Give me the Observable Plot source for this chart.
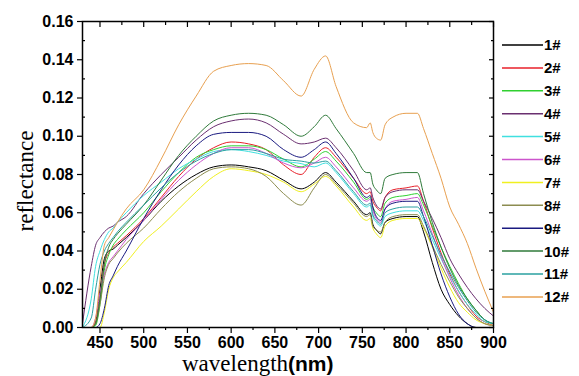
<!DOCTYPE html>
<html><head><meta charset="utf-8">
<script src="https://cdn.jsdelivr.net/npm/d3@7"></script>
<script src="https://cdn.jsdelivr.net/npm/@observablehq/plot@0.6"></script>
<style>body{margin:0;background:#fff} svg{display:block}</style>
</head><body><div id="chart"></div>
<script>
const wavelengths = [430,440,445,450,455,460,465,470,480,500,520,540,560,580,600,620,640,660,680,695,708,720,740,755,759,762,766,771,776,785,800,813,820,830,840,850,860,870,880,890,900];

const s1  = [0,0,0.003,0.020,0.036,0.040,0.041,0.043,0.047,0.056,0.066,0.074,0.080,0.084,0.085,0.084,0.082,0.077,0.0725,0.076,0.081,0.076,0.066,0.059,0.060,0.054,0.051,0.049,0.055,0.057,0.058,0.058,0.050,0.034,0.020,0.012,0.006,0.002,0,0,0];
const s2  = [0,0,0.002,0.015,0.033,0.039,0.042,0.044,0.048,0.057,0.068,0.079,0.088,0.094,0.097,0.096,0.093,0.085,0.080,0.089,0.094,0.089,0.078,0.070,0.071,0.066,0.063,0.061,0.068,0.072,0.073,0.074,0.066,0.052,0.039,0.028,0.019,0.012,0.006,0.003,0.001];
const s3  = [0,0,0.001,0.012,0.030,0.038,0.043,0.046,0.051,0.060,0.071,0.081,0.089,0.093,0.095,0.095,0.093,0.088,0.084,0.088,0.092,0.087,0.076,0.067,0.068,0.063,0.060,0.058,0.065,0.068,0.069,0.070,0.064,0.053,0.042,0.032,0.023,0.015,0.009,0.004,0.002];
const s4  = [0.002,0.032,0.043,0.047,0.050,0.052,0.053,0.055,0.058,0.070,0.080,0.089,0.098,0.105,0.108,0.109,0.107,0.101,0.096,0.097,0.099,0.094,0.082,0.072,0.073,0.068,0.064,0.062,0.068,0.071,0.072,0.072,0.066,0.057,0.047,0.036,0.028,0.021,0.015,0.010,0.006];
const s5  = [0,0.015,0.032,0.040,0.046,0.050,0.052,0.055,0.060,0.069,0.076,0.083,0.088,0.092,0.093,0.092,0.090,0.087,0.0857,0.084,0.086,0.081,0.070,0.063,0.064,0.058,0.055,0.053,0.058,0.060,0.061,0.061,0.056,0.046,0.036,0.027,0.019,0.012,0.007,0.003,0.002];
const s6  = [0,0,0.005,0.018,0.028,0.034,0.037,0.040,0.046,0.056,0.067,0.077,0.085,0.091,0.094,0.094,0.091,0.086,0.0835,0.086,0.089,0.084,0.073,0.066,0.067,0.061,0.057,0.055,0.062,0.066,0.067,0.068,0.061,0.049,0.037,0.026,0.017,0.010,0.005,0.002,0.001];
const s7  = [0,0,0,0,0.008,0.020,0.026,0.029,0.034,0.045,0.053,0.062,0.071,0.079,0.083,0.082,0.080,0.076,0.071,0.075,0.079,0.074,0.063,0.056,0.057,0.052,0.049,0.047,0.053,0.056,0.057,0.057,0.052,0.042,0.031,0.021,0.013,0.008,0.004,0.002,0.001];
const s8  = [0,0,0.002,0.012,0.026,0.033,0.036,0.039,0.044,0.052,0.062,0.071,0.078,0.083,0.084,0.083,0.079,0.070,0.064,0.073,0.080,0.075,0.065,0.058,0.059,0.053,0.051,0.050,0.055,0.058,0.059,0.059,0.053,0.043,0.033,0.024,0.016,0.010,0.005,0.002,0.001];
const s9  = [0,0,0,0.002,0.010,0.022,0.027,0.032,0.040,0.057,0.072,0.085,0.095,0.101,0.102,0.102,0.100,0.093,0.089,0.093,0.097,0.091,0.078,0.068,0.069,0.063,0.058,0.056,0.062,0.065,0.066,0.066,0.058,0.043,0.028,0.016,0.007,0.002,0,0,0];
const s10 = [0,0,0.002,0.015,0.033,0.042,0.046,0.049,0.054,0.064,0.077,0.090,0.100,0.108,0.111,0.112,0.111,0.106,0.100,0.105,0.111,0.104,0.091,0.081,0.081,0.075,0.072,0.070,0.078,0.080,0.081,0.081,0.070,0.055,0.042,0.031,0.022,0.015,0.009,0.004,0.002];
const s11 = [0,0.005,0.020,0.033,0.040,0.044,0.047,0.050,0.055,0.064,0.073,0.081,0.087,0.091,0.093,0.093,0.091,0.088,0.087,0.086,0.087,0.082,0.071,0.064,0.065,0.059,0.056,0.054,0.060,0.062,0.063,0.063,0.058,0.048,0.038,0.029,0.021,0.014,0.008,0.004,0.002];
const s12 = [0,0,0.005,0.025,0.043,0.047,0.051,0.055,0.062,0.072,0.088,0.106,0.121,0.134,0.137,0.138,0.137,0.129,0.121,0.135,0.142,0.126,0.107,0.1045,0.107,0.102,0.099,0.098,0.106,0.110,0.112,0.112,0.104,0.091,0.078,0.063,0.054,0.044,0.031,0.019,0.008];

const seriesNames = ["1#","2#","3#","4#","5#","6#","7#","8#","9#","10#","11#","12#"];
const seriesColors = ["#000000","#e8202a","#30d030","#6a2f70","#40e0e0","#cc55cc","#f0f020","#8c8c50","#1a1a80","#2f7a3a","#2aa0a0","#e8a050"];
const xTicks = [450,500,550,600,650,700,750,800,850,900];
const xMinorTicks = [475,525,575,625,675,725,775,825,875];
const yTicks = [0,0.02,0.04,0.06,0.08,0.10,0.12,0.14,0.16];
const yMinorTicks = [0.01,0.03,0.05,0.07,0.09,0.11,0.13,0.15];

const seriesValues = [s1,s2,s3,s4,s5,s6,s7,s8,s9,s10,s11,s12];
const rows = seriesValues.flatMap((vals, i) => vals.map((v, j) => ({series: seriesNames[i], wavelength: wavelengths[j], reflectance: v})));

const empty = () => "";
const plot = Plot.plot({
  width: 579, height: 376,
  marginLeft: 82, marginRight: 86, marginTop: 21, marginBottom: 49,
  style: {fontFamily: "'Liberation Sans', Arial, sans-serif", background: "#fff", color: "#000"},
  x: {domain: [430, 900]},
  y: {domain: [0, 0.16]},
  color: {domain: seriesNames, range: seriesColors},
  marks: [
    Plot.line(rows, {x: "wavelength", y: "reflectance", z: "series", stroke: "series", strokeWidth: 1, curve: "monotone-x"}),
    Plot.axisX(xTicks, {anchor: "bottom", tickSize: 6, tickPadding: 3, label: null, fontSize: 16, fontWeight: "bold", stroke: "#000", strokeWidth: 1.2}),
    Plot.axisX(xMinorTicks, {anchor: "bottom", tickSize: 3, tickFormat: empty, label: null, strokeWidth: 1.2}),
    Plot.axisX(xTicks, {anchor: "top", tickSize: -5, tickFormat: empty, label: null, strokeWidth: 1.2}),
    Plot.axisX(xMinorTicks, {anchor: "top", tickSize: -3, tickFormat: empty, label: null, strokeWidth: 1.2}),
    Plot.axisY(yTicks, {anchor: "left", tickSize: 5, tickPadding: 4, tickFormat: d3.format(".2f"), label: null, fontSize: 16, fontWeight: "bold", strokeWidth: 1.2}),
    Plot.axisY(yMinorTicks, {anchor: "left", tickSize: -3, tickFormat: empty, label: null, strokeWidth: 1.2}),
    Plot.axisY(yTicks, {anchor: "right", tickSize: -5, tickFormat: empty, label: null, strokeWidth: 1.2}),
    Plot.axisY(yMinorTicks, {anchor: "right", tickSize: -3, tickFormat: empty, label: null, strokeWidth: 1.2}),
    Plot.frame({stroke: "#000", strokeWidth: 1.5})
  ]
});
document.getElementById("chart").append(plot);

const svg = d3.select(plot);
// axis titles
svg.append("text")
  .attr("transform", "translate(33,181) rotate(-90)")
  .attr("text-anchor", "middle")
  .style("font-family", "'Liberation Serif', 'Times New Roman', serif")
  .style("font-size", "23px")
  .style("fill", "#000")
  .text("reflectance");
const xl = svg.append("text")
  .attr("x", 182).attr("y", 371)
  .attr("text-anchor", "start")
  .style("fill", "#000");
xl.append("tspan")
  .style("font-family", "'Liberation Serif', 'Times New Roman', serif")
  .style("font-size", "23px")
  .text("wavelength");
xl.append("tspan")
  .style("font-family", "'Liberation Sans', Arial, sans-serif")
  .style("font-size", "21px")
  .style("font-weight", "bold")
  .text("(nm)");

// legend
const lg = svg.append("g");
seriesNames.forEach((name, i) => {
  const y = 45 + i * 22.9;
  lg.append("line").attr("x1", 502).attr("x2", 543).attr("y1", y).attr("y2", y)
    .attr("stroke", seriesColors[i]).attr("stroke-width", 1.5);
  lg.append("text").attr("x", 544).attr("y", y).attr("dy", "0.36em")
    .attr("text-anchor", "start")
    .style("font-family", "'Liberation Sans', Arial, sans-serif")
    .style("font-size", "15px").style("font-weight", "bold").style("fill", "#000")
    .text(name);
});
</script>
</body></html>
